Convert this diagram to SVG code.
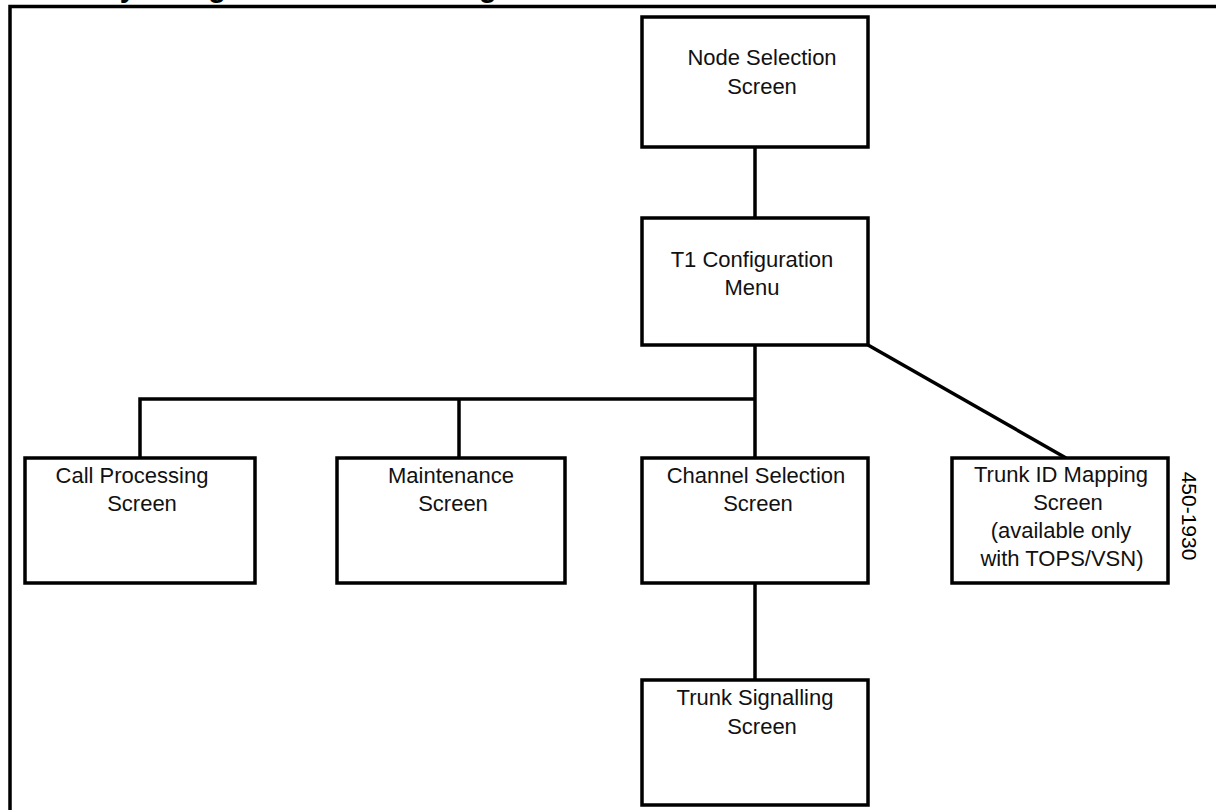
<svg xmlns="http://www.w3.org/2000/svg" width="1216" height="810" viewBox="0 0 1216 810">
  <style>
    .box { fill: #ffffff; stroke: #000000; stroke-width: 3.5; }
    .wire { fill: none; stroke: #000000; stroke-width: 3.5; stroke-linecap: butt; }
    .lbl { font-family: "Liberation Sans", Arial, sans-serif; font-size: 22px; fill: #111111; text-anchor: middle; }
    .title { font-family: "Liberation Sans", Arial, sans-serif; font-size: 29px; font-weight: bold; fill: #000000; }
    .figno { font-family: "Liberation Sans", Arial, sans-serif; font-size: 21px; fill: #000000; text-anchor: middle; }
  </style>

  <rect width="1216" height="810" fill="#ffffff"/>

  <!-- heading (sits mostly above the sheet edge) -->
  <text class="title" x="2" y="-3">Hierarchy of Digital Trunk T1 Configuration Screens</text>

  <!-- outer frame -->
  <path class="wire" d="M10,812 V6.5 H1218" stroke-width="4"/>

  <!-- connectors -->
  <g id="connectors">
    <path class="wire" d="M755,147 V218"/>
    <path class="wire" d="M755,345 V458"/>
    <path class="wire" d="M140,458 V399 H755"/>
    <path class="wire" d="M459,399 V458"/>
    <path class="wire" d="M868,345 L1066,458"/>
    <path class="wire" d="M755,583 V680"/>
  </g>

  <g id="node-selection">
    <rect class="box" x="642" y="17" width="226" height="130"/>
    <text class="lbl" x="762" y="65">Node Selection</text>
    <text class="lbl" x="762" y="94">Screen</text>
  </g>

  <g id="t1-config-menu">
    <rect class="box" x="642" y="218" width="226" height="127"/>
    <text class="lbl" x="752" y="267">T1 Configuration</text>
    <text class="lbl" x="752" y="295">Menu</text>
  </g>

  <g id="call-processing">
    <rect class="box" x="25" y="458" width="230" height="125"/>
    <text class="lbl" x="132" y="483">Call Processing</text>
    <text class="lbl" x="142" y="511">Screen</text>
  </g>

  <g id="maintenance">
    <rect class="box" x="337" y="458" width="228" height="125"/>
    <text class="lbl" x="451" y="483">Maintenance</text>
    <text class="lbl" x="453" y="511">Screen</text>
  </g>

  <g id="channel-selection">
    <rect class="box" x="642" y="458" width="226" height="125"/>
    <text class="lbl" x="756" y="483">Channel Selection</text>
    <text class="lbl" x="758" y="511">Screen</text>
  </g>

  <g id="trunk-id-mapping">
    <rect class="box" x="952" y="458" width="216" height="125"/>
    <text class="lbl" x="1061" y="482">Trunk ID Mapping</text>
    <text class="lbl" x="1068" y="510">Screen</text>
    <text class="lbl" x="1061" y="538">(available only</text>
    <text class="lbl" x="1062" y="566">with TOPS/VSN)</text>
  </g>

  <g id="trunk-signalling">
    <rect class="box" x="642" y="680" width="226" height="125"/>
    <text class="lbl" x="755" y="705">Trunk Signalling</text>
    <text class="lbl" x="762" y="734">Screen</text>
  </g>

  <!-- figure number, running down the right side -->
  <text class="figno" transform="translate(1182,516) rotate(90)">450-1930</text>
</svg>
